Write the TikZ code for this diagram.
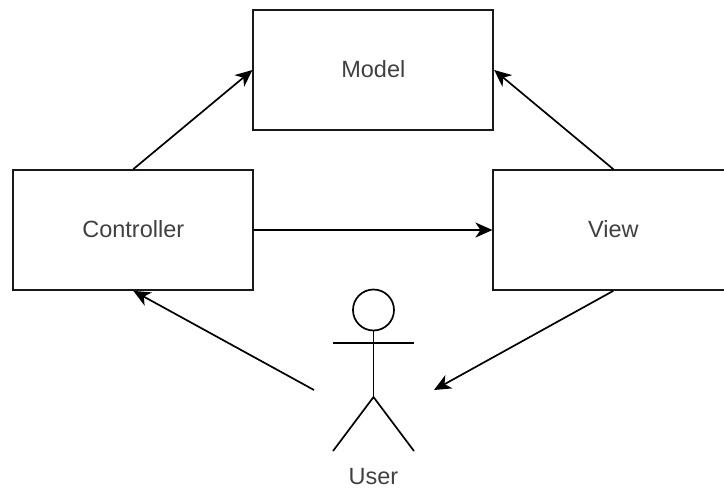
\documentclass[tikz,border=0pt]{standalone}
\usepackage{fontspec}
\setmainfont{Liberation Sans}
\usetikzlibrary{arrows.meta}
\begin{document}
\begin{tikzpicture}[x=1pt,y=-1pt,
  box/.style={draw=black!90,line width=1.7pt,fill=white,minimum width=240pt,minimum height=120pt,inner sep=0pt,font=\fontsize{23.5}{26}\selectfont,text=black!75},
  conn/.style={draw=black,line width=1.7pt,-{Stealth[length=17pt,width=15pt,inset=5pt]}},
  actor/.style={draw=black,line width=1.7pt},
  lbl/.style={font=\fontsize{23.5}{26}\selectfont,text=black!75,inner sep=0pt}]
\useasboundingbox (0,0) rectangle (724,488);
\node[box] (model) at (373.3,70) {\raisebox{3pt}{Model}};
\node[box] (ctrl) at (133.3,230) {\raisebox{3pt}{Controller}};
\node[box] (view) at (613.3,230) {\raisebox{3pt}{View}};
\node[draw=black,line width=1.7pt,circle,minimum size=41pt,inner sep=0pt] (head) at (373.5,310) {};
\coordinate (neck) at (373.5,330.5);
\coordinate (hip) at (373.5,397);
\coordinate (armL) at (333,343);
\coordinate (armR) at (414,343);
\coordinate (footL) at (333,451);
\coordinate (footR) at (414,451);
\draw[actor] (neck) -- (hip);
\draw[actor] (armL) -- (armR);
\draw[actor] (footL) -- (hip) -- (footR);
\node[lbl] (user) at (373.5,476.5) {User};
\coordinate (uOut) at (314,390);
\coordinate (uIn) at (434,390);
\draw[conn] (ctrl.north) -- (model.west);
\draw[conn] (view.north) -- (model.east);
\draw[conn] (ctrl.east) -- (view.west);
\draw[conn] (uOut) -- (ctrl.south);
\draw[conn] (view.south) -- (uIn);
\end{tikzpicture}
\end{document}
